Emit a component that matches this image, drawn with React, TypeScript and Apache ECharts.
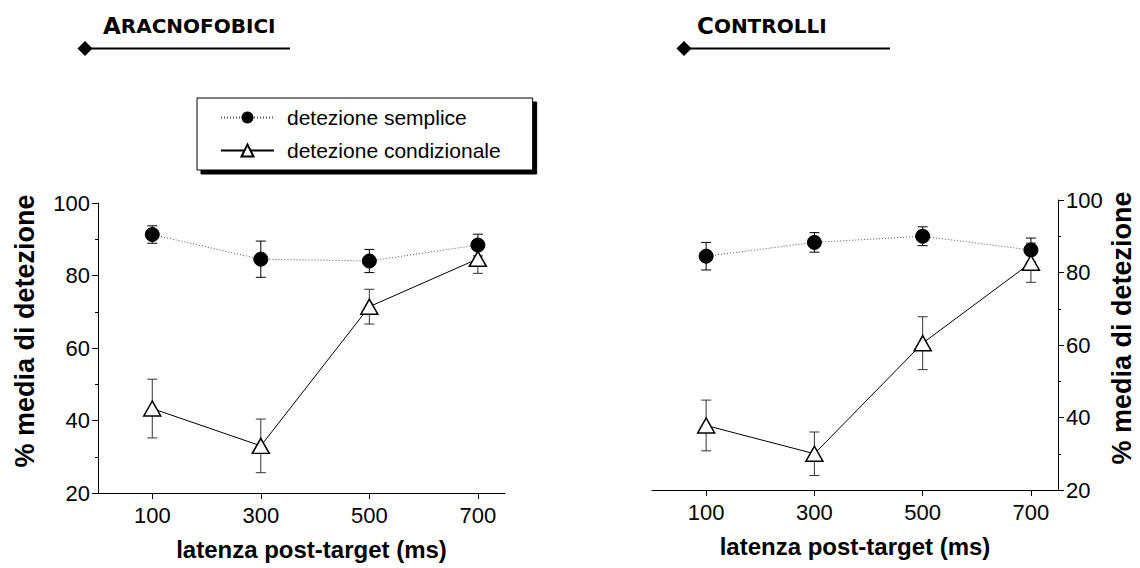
import React, { useEffect, useRef } from 'react';
import * as echarts from 'echarts';

const latencies = [100, 300, 500, 700];
const xTickValues = [100, 300, 500, 700];

const aracSemplice = [91.3, 84.5, 84.0, 88.4];
const aracSempliceErr = [2.4, 5.0, 3.2, 3.0];
const aracCond = [43.3, 33.0, 71.4, 84.6];
const aracCondErr = [8.1, 7.4, 4.8, 4.0];

const contrSemplice = [84.5, 88.3, 90.0, 86.2];
const contrSempliceErr = [3.8, 2.7, 2.6, 3.3];
const contrCond = [37.8, 30.0, 60.5, 82.7];
const contrCondErr = [7.0, 6.0, 7.3, 5.4];

const nameSemplice = 'detezione semplice';
const nameCond = 'detezione condizionale';
const yAxisName = '% media di detezione';
const xAxisName = 'latenza post-target (ms)';

const FONT = "'Liberation Sans', Arial, sans-serif";

const pairs = (ys: number[]) => latencies.map((x, i) => [x, ys[i]]);
const ranges = (ys: number[], es: number[]) =>
  latencies.map((x, i) => [x, ys[i] - es[i], ys[i] + es[i]]);

const errorBarSeries = (axis: number, data: number[][], color: string) => ({
  type: 'custom',
  xAxisIndex: axis,
  yAxisIndex: axis,
  data,
  z: 1,
  silent: true,
  encode: { x: 0, y: [1, 2] },
  renderItem: (params: any, api: any) => {
    const x = api.value(0);
    const lo = api.coord([x, api.value(1)]);
    const hi = api.coord([x, api.value(2)]);
    const w = 5;
    const style = { stroke: color, lineWidth: 1, fill: 'none' };
    return {
      type: 'group',
      children: [
        { type: 'line', shape: { x1: lo[0], y1: lo[1], x2: hi[0], y2: hi[1] }, style },
        { type: 'line', shape: { x1: lo[0] - w, y1: lo[1], x2: lo[0] + w, y2: lo[1] }, style },
        { type: 'line', shape: { x1: hi[0] - w, y1: hi[1], x2: hi[0] + w, y2: hi[1] }, style },
      ],
    };
  },
});

const sempliceSeries = (axis: number, ys: number[]) => ({
  type: 'line',
  name: nameSemplice,
  xAxisIndex: axis,
  yAxisIndex: axis,
  data: pairs(ys),
  z: 3,
  symbol: 'circle',
  symbolSize: 14,
  itemStyle: { color: '#000', borderColor: '#000' },
  lineStyle: { color: '#555', width: 1, type: [1, 2] },
});

const condSeries = (axis: number, ys: number[]) => ({
  type: 'line',
  name: nameCond,
  xAxisIndex: axis,
  yAxisIndex: axis,
  data: pairs(ys),
  z: 4,
  symbol: 'triangle',
  symbolSize: [17, 15],
  itemStyle: { color: '#fff', borderColor: '#000', borderWidth: 1.5 },
  lineStyle: { color: '#000', width: 1, type: 'solid' },
});

const xAxisCfg = (grid: number, namePad: number) => ({
  type: 'value',
  gridIndex: grid,
  min: 0,
  max: 750,
  splitLine: { show: false },
  axisLine: { show: true, onZero: false, lineStyle: { color: '#000', width: 1 } },
  axisTick: { show: true, length: 6, customValues: xTickValues, lineStyle: { color: '#000' } },
  axisLabel: { customValues: xTickValues, color: '#000', fontSize: 22, fontFamily: FONT, margin: 11 },
  name: xAxisName,
  nameLocation: 'middle',
  nameGap: 44,
  nameTextStyle: {
    color: '#000',
    fontSize: 24,
    fontWeight: 'bold',
    fontFamily: FONT,
    padding: [0, 0, 0, namePad],
  },
});

const yAxisCfg = (grid: number, position: string, nameGap: number) => ({
  type: 'value',
  gridIndex: grid,
  position,
  min: 20,
  max: 100,
  interval: 20,
  splitLine: { show: false },
  axisLine: { show: true, onZero: false, lineStyle: { color: '#000', width: 1 } },
  axisTick: { show: true, length: 6, lineStyle: { color: '#000' } },
  minorTick: { show: true, splitNumber: 2, length: 3, lineStyle: { color: '#000' } },
  axisLabel: { color: '#000', fontSize: 22, fontFamily: FONT, margin: 8 },
  name: yAxisName,
  nameLocation: 'middle',
  nameRotate: 90,
  nameGap,
  nameTextStyle: {
    color: '#000',
    fontSize: 27,
    fontWeight: 'bold',
    fontFamily: FONT,
    padding: [0, 0, 0, 34],
  },
});

const titleCfg = (first: string, rest: string, left: number) => ({
  text: `{a|${first}}{b|${rest}}`,
  left,
  top: 14,
  padding: 0,
  textStyle: {
    rich: {
      a: { fontSize: 23, fontWeight: 'bold', fontFamily: "'DejaVu Sans', sans-serif", color: '#000' },
      b: { fontSize: 20, fontWeight: 'bold', fontFamily: "'DejaVu Sans', sans-serif", color: '#000' },
    },
  },
});

const headerDecor = (cx: number, x2: number) => [
  {
    type: 'line',
    shape: { x1: cx, y1: 48.5, x2, y2: 48.5 },
    style: { stroke: '#000', lineWidth: 2 },
  },
  {
    type: 'polygon',
    shape: { points: [[cx, 41], [cx + 7.5, 48.5], [cx, 56], [cx - 7.5, 48.5]] },
    style: { fill: '#000' },
  },
];

export default function App() {
  const ref = useRef<HTMLDivElement>(null);
  useEffect(() => {
    if (!ref.current) return;
    const chart = echarts.init(ref.current, undefined, { renderer: 'svg' });
    chart.setOption({
      animation: false,
      backgroundColor: '#fff',
      title: [titleCfg('A', 'RACNOFOBICI', 103), titleCfg('C', 'ONTROLLI', 697)],
      graphic: [...headerDecor(85, 290), ...headerDecor(684, 890)],
      legend: {
        orient: 'vertical',
        left: 197,
        top: 98,
        data: [nameSemplice, nameCond],
        selectedMode: false,
        itemWidth: 53,
        itemHeight: 15,
        itemGap: 12,
        padding: [9, 32, 9, 23],
        backgroundColor: '#fff',
        borderColor: '#000',
        borderWidth: 1,
        shadowColor: '#000',
        shadowBlur: 0,
        shadowOffsetX: 4,
        shadowOffsetY: 4,
        textStyle: { color: '#000', fontSize: 21, fontFamily: FONT, padding: [0, 0, 0, 8] },
      },
      grid: [
        { left: 98, top: 203, width: 407, height: 290 },
        { left: 652, top: 200, width: 406, height: 290 },
      ],
      xAxis: [xAxisCfg(0, 20), xAxisCfg(1, 0)],
      yAxis: [yAxisCfg(0, 'left', 60), yAxisCfg(1, 'right', 50)],
      series: [
        errorBarSeries(0, ranges(aracSemplice, aracSempliceErr), '#000'),
        errorBarSeries(0, ranges(aracCond, aracCondErr), '#333'),
        sempliceSeries(0, aracSemplice),
        condSeries(0, aracCond),
        errorBarSeries(1, ranges(contrSemplice, contrSempliceErr), '#000'),
        errorBarSeries(1, ranges(contrCond, contrCondErr), '#333'),
        sempliceSeries(1, contrSemplice),
        condSeries(1, contrCond),
      ],
    });
    return () => chart.dispose();
  }, []);
  return (
    <div
      ref={ref}
      style={{ position: 'fixed', left: 0, top: 0, width: 1140, height: 568, background: '#fff' }}
    />
  );
}
